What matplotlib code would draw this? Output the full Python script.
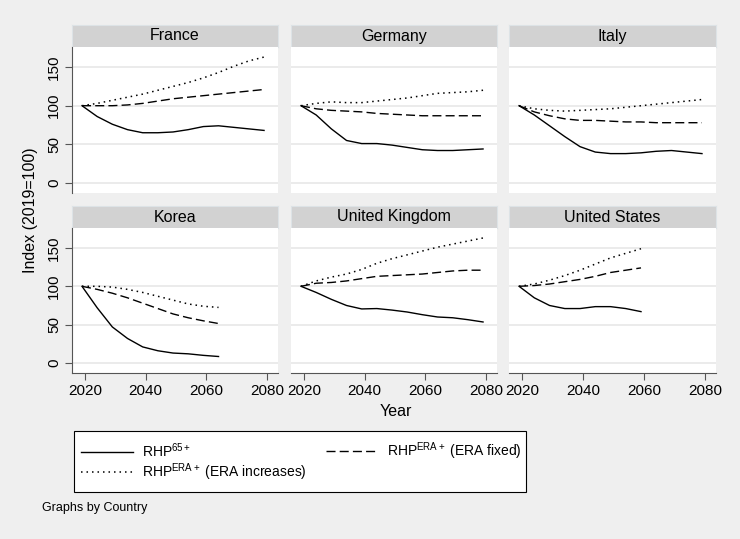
import numpy as np
import matplotlib
matplotlib.use("Agg")
import matplotlib.pyplot as plt
from matplotlib.lines import Line2D
from matplotlib.patches import Rectangle

plt.rcParams['font.family'] = ['Liberation Sans', 'DejaVu Sans']
plt.rcParams['mathtext.fontset'] = 'custom'
plt.rcParams['mathtext.rm'] = 'Liberation Sans'
plt.rcParams['mathtext.it'] = 'Liberation Sans'

# projections, 5-year steps starting 2019
countries = ["France", "Germany", "Italy", "Korea", "United Kingdom", "United States"]
years_long = [2019, 2024, 2029, 2034, 2039, 2044, 2049, 2054, 2059, 2064, 2069, 2074, 2079]
years_korea = years_long[:10]
years_us = years_long[:9]

france_65 = [100, 86, 76, 69, 65, 65, 66, 69, 73, 74, 72, 70, 68]
france_fixed = [100, 100, 100, 101, 103, 106, 109, 111, 113, 115, 117, 119, 121]
france_incr = [100, 103, 107, 111, 115, 120, 125, 130, 136, 143, 151, 158, 163]

germany_65 = [100, 88, 70, 55, 51, 51, 49, 46, 43, 42, 42, 43, 44]
germany_fixed = [100, 96, 94, 93, 92, 90, 89, 88, 87, 87, 87, 87, 87]
germany_incr = [100, 103, 105, 104, 104, 106, 108, 110, 113, 116, 117, 118, 120]

italy_65 = [100, 88, 74, 60, 47, 40, 38, 38, 39, 41, 42, 40, 38]
italy_fixed = [100, 92, 87, 83, 81, 81, 80, 79, 79, 78, 78, 78, 78]
italy_incr = [100, 96, 94, 93, 94, 95, 96, 98, 100, 102, 104, 106, 108]

korea_65 = [100, 72, 47, 32, 21, 16, 13, 12, 10, 8.5]
korea_fixed = [100, 96, 91, 85, 78, 71, 64, 59, 55, 51.5]
korea_incr = [100, 100, 99, 96, 92, 87, 82, 77, 74, 72.5]

uk_65 = [100, 92, 83, 75, 70.5, 71, 69, 66.5, 63, 60, 59, 56.5, 53.5]
uk_fixed = [100, 104, 105, 107, 110, 113, 114, 115, 116, 118, 120, 121, 121]
uk_incr = [100, 107, 112, 116, 122, 130, 136, 141, 146, 151, 155, 159, 163]

us_65 = [100, 85, 75, 71, 71, 73.5, 73.5, 71, 67]
us_fixed = [100, 101, 103, 106, 109, 113, 118, 121, 124]
us_incr = [100, 103, 108, 114, 121, 129, 137, 143, 149]

series = {
    "France": (years_long, france_65, france_fixed, france_incr),
    "Germany": (years_long, germany_65, germany_fixed, germany_incr),
    "Italy": (years_long, italy_65, italy_fixed, italy_incr),
    "Korea": (years_korea, korea_65, korea_fixed, korea_incr),
    "United Kingdom": (years_long, uk_65, uk_fixed, uk_incr),
    "United States": (years_us, us_65, us_fixed, us_incr),
}

yticks = [0, 50, 100, 150]
xticks = [2020, 2040, 2060, 2080]

W, H = 740, 539
BG = '#efefef'
STRIP = '#d2d2d2'
GRID = '#e8e8e8'
AX = '#555555'

solid_style = dict(color='black', lw=1.0, ls='-')
dash_style = dict(color='black', lw=1.0, ls=(0, (6.5, 3.0)))
dot_style = dict(color='black', lw=1.1, ls=(0, (1.0, 2.6)))

fig = plt.figure(figsize=(W / 100, H / 100), dpi=100, facecolor=BG)


def px_axes(x0, y0, x1, y1):
    return fig.add_axes([x0 / W, 1 - y1 / H, (x1 - x0) / W, (y1 - y0) / H])


col_x = [(72, 278), (291, 497), (509, 716)]
row_y = [(25, 47, 193), (206, 228, 373)]

for i, name in enumerate(countries):
    r, c = divmod(i, 3)
    x0, x1 = col_x[c]
    st, pt, pb = row_y[r]

    strip = px_axes(x0, st, x1, pt)
    strip.set_facecolor(STRIP)
    for s in strip.spines.values():
        s.set_color('#dde3e6')
        s.set_linewidth(0.8)
    strip.set_xticks([])
    strip.set_yticks([])
    strip.text(0.5, 0.5, name, ha='center', va='center', fontsize=11.5,
               transform=strip.transAxes)

    ax = px_axes(x0, pt, x1, pb)
    ax.set_facecolor('white')
    ax.set_xlim(2015.7, 2083.6)
    ax.set_ylim(-13, 176)
    for y in yticks:
        ax.axhline(y, color=GRID, lw=1.2, zorder=0)

    yrs, s65, sfix, sinc = series[name]
    ax.plot(yrs, s65, **solid_style)
    ax.plot(yrs, sfix, **dash_style)
    ax.plot(yrs, sinc, **dot_style)

    for s in ax.spines.values():
        s.set_visible(False)
    ax.set_yticks(yticks)
    ax.set_xticks(xticks)
    if c == 0:
        ax.spines['left'].set_visible(True)
        ax.spines['left'].set_color(AX)
        ax.tick_params(axis='y', length=5, color=AX, labelsize=11, pad=3)
        ax.set_yticklabels([str(v) for v in yticks], rotation=90, va='center')
    else:
        ax.tick_params(axis='y', left=False, labelleft=False)
    if r == 1:
        ax.spines['bottom'].set_visible(True)
        ax.spines['bottom'].set_color(AX)
        ax.tick_params(axis='x', length=5, color=AX, labelsize=11, pad=3)
    else:
        ax.tick_params(axis='x', bottom=False, labelbottom=False)

fig.text(30 / W, 1 - 210 / H, 'Index (2019=100)', rotation=90, ha='center',
         va='center', fontsize=11.5)
fig.text(396 / W, 1 - 411 / H, 'Year', ha='center', va='center', fontsize=11.5)

# legend box with entries placed on a 2-column grid
fig.patches.append(Rectangle((74 / W, 1 - 492 / H), (526 - 74) / W, (492 - 431) / H,
                             transform=fig.transFigure, facecolor='white',
                             edgecolor='black', lw=0.8, zorder=1))
entries = [
    (solid_style, r'RHP$^{\mathrm{65+}}$', 81, 451),
    (dash_style, r'RHP$^{\mathrm{ERA+}}$ (ERA fixed)', 326, 451),
    (dot_style, r'RHP$^{\mathrm{ERA+}}$ (ERA increases)', 81, 472),
]
for style, label, lx, ly in entries:
    lg = fig.legend([Line2D([], [], **style)], [label], loc='center left',
                    bbox_to_anchor=(lx / W, 1 - ly / H), frameon=False,
                    fontsize=10, handlelength=3.75, handletextpad=0.65,
                    borderpad=0, borderaxespad=0)
    lg.set_zorder(2)

fig.text(42 / W, 1 - 508 / H, 'Graphs by Country', ha='left', va='center',
         fontsize=9)

fig.savefig('out.png', dpi=100, facecolor=BG)
